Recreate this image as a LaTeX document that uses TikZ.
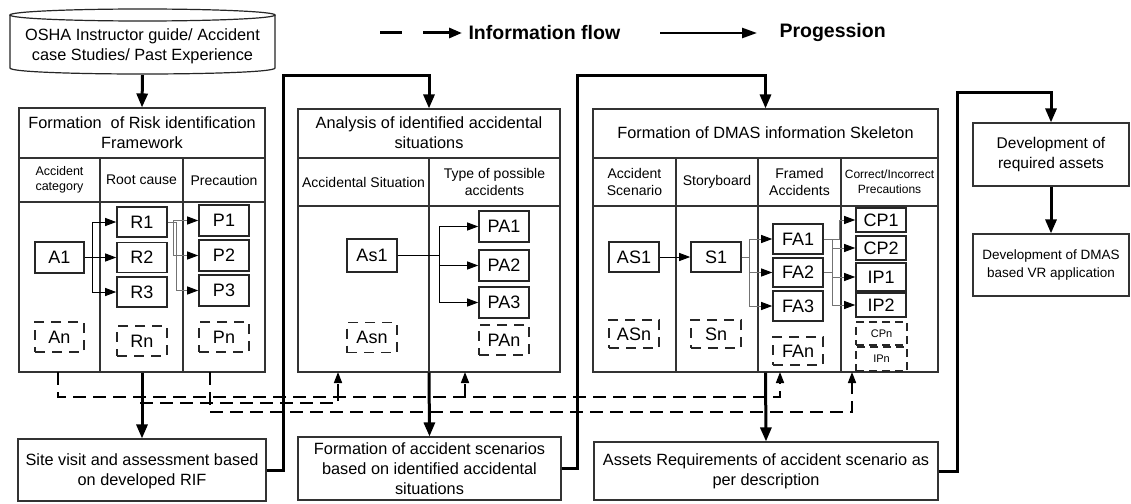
\documentclass[tikz,border=0pt]{standalone}
\usepackage{fontspec}
\setmainfont{Liberation Sans}
\usetikzlibrary{arrows.meta}
\begin{document}
\begin{tikzpicture}[x=1pt,y=-1pt,
  frame/.style={draw=black!80, line width=1.1pt, inner sep=0pt},
  sep/.style={draw=black!80, line width=1.1pt},
  cell/.style={draw=black!85, line width=1.6pt, minimum width=50pt, minimum height=30pt, inner sep=0pt, font=\fontsize{18}{18}\selectfont},
  dcell/.style={cell, dash pattern=on 10pt off 7pt},
  hdr/.style={align=center, font=\fontsize{14}{16.5}\selectfont},
  ttl/.style={align=center, font=\fontsize{16.3}{20}\selectfont},
  prog/.style={line width=3pt, -{Triangle[length=14pt,width=11pt]}},
  flow/.style={line width=0.9pt, -{Triangle[length=11pt,width=8pt]}},
  gflow/.style={draw=black!55, line width=0.9pt, -{Triangle[length=11pt,width=8pt,color=black]}},
  info/.style={line width=1.6pt, dash pattern=on 13pt off 7pt},
  infoarrow/.style={info, -{Triangle[length=11pt,width=8pt]}},
  legend/.style={anchor=west, font=\bfseries\fontsize{19.5}{20}\selectfont},
]
\useasboundingbox[fill=white] (0,0) rectangle (1131,503);

% ---------- legend ----------
\coordinate (lga) at (380,33);
\coordinate (lgb) at (402,33);
\coordinate (lgc) at (423,33);
\coordinate (lgd) at (462,33);
\draw[line width=3pt] (lga) -- (lgb);
\draw[line width=3pt, -{Triangle[length=13pt,width=10pt]}] (lgc) -- (lgd);
\node[legend] (lgt1) at (465,33) {Information flow};
\coordinate (lge) at (660,33);
\coordinate (lgf) at (757,33);
\draw[line width=2.5pt, -{Triangle[length=15pt,width=10pt]}] (lge) -- (lgf);
\node[legend] (lgt2) at (776,33) {Progession};

% ---------- source cylinder ----------
\draw[line width=1.2pt, draw=black!85] (10,15) -- (10,68) .. controls (10,76) and (275,76) .. (275,68) -- (275,15);
\draw[line width=1.2pt, draw=black!85] (142.5,15) ellipse [x radius=132.5, y radius=6];
\node[ttl, minimum width=265pt, minimum height=58pt, inner sep=0pt] (src) at (142.5,46) {OSHA Instructor guide/ Accident\\case Studies/ Past Experience};

% ---------- Box 1 ----------
\node[frame, minimum width=246pt, minimum height=264pt] (F1) at (142,240) {};
\node[ttl] (F1t) at (142,133) {Formation\ \ of Risk identification\\Framework};
\draw[sep] (19,158) -- (265,158);
\draw[sep] (19,202) -- (265,202);
\draw[sep] (100,158) -- (100,372);
\draw[sep] (183,158) -- (183,372);
\node[hdr, font=\fontsize{12.5}{15}\selectfont] (h11) at (59.5,180) {Accident\\category};
\node[hdr] (h12) at (141.5,180) {Root cause};
\node[hdr] (h13) at (224,180) {Precaution};

\node[cell, minimum width=49pt, minimum height=31pt] (A1) at (59.5,257.5) {A1};
\node[cell] (R1) at (142,222) {R1};
\node[cell] (R2) at (142,257.5) {R2};
\node[cell] (R3) at (142,292) {R3};
\node[cell, minimum height=31pt] (P1) at (224,220.5) {P1};
\node[cell, minimum height=31pt] (P2) at (224,255.5) {P2};
\node[cell, minimum height=31pt] (P3) at (224,290.5) {P3};
\node[dcell, minimum width=49pt] (An) at (59.5,337) {An};
\node[dcell] (Rn) at (142,341) {Rn};
\node[dcell] (Pn) at (224,337) {Pn};

\draw[flow] (A1.east) -- ++(8,0) |- (R1.west);
\draw[flow] (A1.east) -- (R2.west);
\draw[flow] (A1.east) -- ++(8,0) |- (R3.west);
\draw[gflow] (R1.east) -- ++(6,0) |- (P1.west);
\draw[gflow] (R1.east) -- ++(6,0) |- (P2.west);
\draw[gflow] (R1.east) -- ++(9,0) |- (P3.west);

% ---------- Box 2 ----------
\node[frame, minimum width=262pt, minimum height=263pt] (F2) at (429,240.5) {};
\node[ttl] (F2t) at (429,133) {Analysis of identified accidental\\situations};
\draw[sep] (298,158) -- (560,158);
\draw[sep] (298,206) -- (560,206);
\draw[sep] (429,158) -- (429,372);
\node[hdr] (h21) at (363.5,182) {Accidental Situation};
\node[hdr] (h22) at (494.5,182) {Type of possible\\accidents};

\node[cell, minimum height=33pt] (As1) at (372,255.5) {As1};
\node[cell, minimum height=31pt] (PA1) at (504,226.5) {PA1};
\node[cell, minimum height=31pt] (PA2) at (504,265.5) {PA2};
\node[cell, minimum height=31pt] (PA3) at (504,302.5) {PA3};
\node[dcell] (Asn) at (372,337.5) {Asn};
\node[dcell] (PAn) at (504,340) {PAn};

\draw[flow] (As1.east) -- ++(42,0) |- (PA1.west);
\draw[flow] (As1.east) -- ++(42,0) |- (PA2.west);
\draw[flow] (As1.east) -- ++(42,0) |- (PA3.west);

% ---------- Box 3 ----------
\node[frame, minimum width=345pt, minimum height=263pt] (F3) at (765.5,240.5) {};
\node[ttl] (F3t) at (765.5,133) {Formation of DMAS information Skeleton};
\draw[sep] (593,158) -- (938,158);
\draw[sep] (593,206) -- (938,206);
\draw[sep] (676,158) -- (676,372);
\draw[sep] (758,158) -- (758,372);
\draw[sep] (841,158) -- (841,372);
\node[hdr] (h31) at (634.5,182) {Accident\\Scenario};
\node[hdr] (h32) at (717,182) {Storyboard};
\node[hdr] (h33) at (799.5,182) {Framed\\Accidents};
\node[hdr, font=\fontsize{12}{15}\selectfont] (h34) at (889.5,182) {Correct/Incorrect\\Precautions};

\node[cell] (AS1) at (634,257) {AS1};
\node[cell] (S1) at (716,257) {S1};
\node[cell] (FA1) at (798,239) {FA1};
\node[cell, minimum height=29pt] (FA2) at (798,272.5) {FA2};
\node[cell] (FA3) at (798,306) {FA3};
\node[cell, minimum height=24pt] (CP1) at (881,220) {CP1};
\node[cell, minimum height=24pt] (CP2) at (881,248) {CP2};
\node[cell, minimum height=28pt] (IP1) at (881,277) {IP1};
\node[cell, minimum height=24pt] (IP2) at (881,305) {IP2};
\node[dcell, minimum height=28pt] (ASn) at (634,334) {ASn};
\node[dcell, minimum height=28pt] (Sn) at (716,334) {Sn};
\node[dcell, minimum height=28pt] (FAn) at (798,351) {FAn};
\node[dcell, minimum width=51pt, minimum height=23pt, font=\fontsize{11}{11}\selectfont, dash pattern=on 8pt off 5pt] (CPn) at (881.5,333.5) {CPn};
\node[dcell, minimum width=51pt, minimum height=24pt, font=\fontsize{11}{11}\selectfont, dash pattern=on 8pt off 5pt] (IPn) at (881.5,359) {IPn};

\draw[flow] (AS1) -- (S1);
\draw[gflow] (S1.east) -- ++(8,0) |- (FA1.west);
\draw[gflow] (S1.east) -- ++(8,0) |- (FA2.west);
\draw[gflow] (S1.east) -- ++(8,0) |- (FA3.west);
\draw[gflow] (FA1.east) -- ++(16,0) |- (CP1.west);
\draw[gflow] (FA1.east) -- ++(9,0) |- (CP2.west);
\draw[gflow] (FA1.east) -- ++(9,0) |- (IP2.west);
\draw[gflow] (FA2.east) -- ++(9,0) |- (IP1.west);

% ---------- right column ----------
\node[frame, minimum width=156pt, minimum height=63pt] (Dev) at (1051,154.5) {};
\node[ttl, font=\fontsize{15.5}{20}\selectfont] (Devt) at (1051,154.5) {Development of\\required assets};
\node[frame, minimum width=156pt, minimum height=62pt] (DMAS) at (1051,265) {};
\node[ttl, font=\fontsize{13.5}{18}\selectfont] (DMASt) at (1051,265) {Development of DMAS\\based VR application};

% ---------- bottom boxes ----------
\node[frame, minimum width=248pt, minimum height=62pt] (Site) at (142,470) {};
\node[ttl] (Sitet) at (142,471) {Site visit and assessment based\\on developed RIF};
\node[frame, minimum width=263pt, minimum height=63pt] (Scen) at (429.5,468.5) {};
\node[ttl] (Scent) at (429.5,469) {Formation of accident scenarios\\based on identified accidental\\situations};
\node[frame, minimum width=344pt, minimum height=58pt] (Assets) at (766,471) {};
\node[ttl] (Assetst) at (766,471) {Assets Requirements of accident scenario as\\per description};

% ---------- progression ----------
\draw[prog] (src.south) -- (F1.north);
\draw[prog] (F1.south) -- (Site.north);
\draw[prog] (Site.east) -| ++(17,-395) -| (F2.north);
\draw[prog] (F2.south) -- (Scen.north);
\draw[prog] (Scen.east) -| ++(16,-393.5) -| (F3.north);
\draw[prog] (F3.south) -- (Assets.north);
\draw[prog] (Assets.east) -| ++(19,-379) -| (Dev.north);
\draw[prog] (Dev.south) -- (DMAS.north);

% ---------- information flow ----------
\coordinate (d1) at (58,372);
\coordinate (d2) at (210,372);
\coordinate (e1) at (338,372);
\coordinate (e2) at (465,372);
\coordinate (e3) at (780,372);
\coordinate (e4) at (852,372);
\coordinate (b1) at (338,397);
\coordinate (b2) at (465,397);
\coordinate (c1) at (140,403);
\coordinate (c2) at (338,403);
\draw[infoarrow] (d1) -- ++(0,25) -| (e3);
\draw[infoarrow] (b1) -- (e1);
\draw[infoarrow] (b2) -- (e2);
\draw[info] (c1) -- (c2) -- (b1);
\draw[infoarrow] (d2) -- ++(0,40) -| (e4);
\end{tikzpicture}
\end{document}
